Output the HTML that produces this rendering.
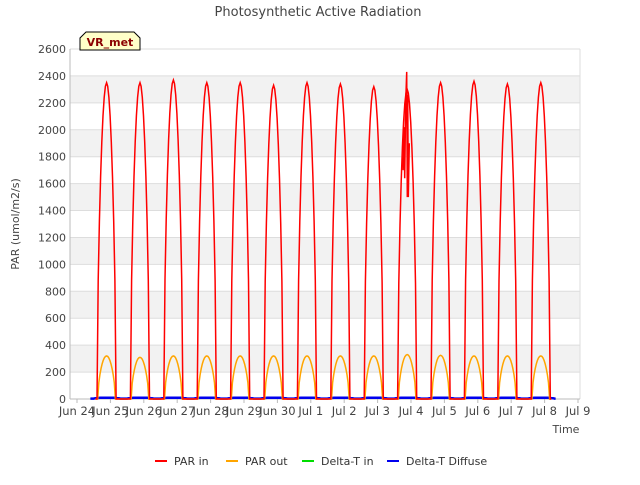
<!DOCTYPE html>
<html><head><meta charset="utf-8"><style>
body{margin:0;background:#fff;font-family:"Liberation Sans","DejaVu Sans",sans-serif}
svg text{font-family:"DejaVu Sans","Liberation Sans",sans-serif}
</style></head><body>
<svg id="chart" width="640" height="480" xmlns="http://www.w3.org/2000/svg">
<text x="318" y="16" text-anchor="middle" font-size="13" fill="#444">Photosynthetic Active Radiation</text>
<g id="grid"></g><g id="axes"></g><g id="series"></g>
<text transform="translate(19,224) rotate(-90)" text-anchor="middle" font-size="11" fill="#444">PAR (umol/m2/s)</text>
<text x="566" y="433" text-anchor="middle" font-size="11" fill="#444">Time</text>
<g>
<path d="M80,50 L80,38 L86,32 L134,32 L140,38 L140,50 Z" fill="#ffffc8" stroke="#000" stroke-width="1"/>
<text x="110" y="46" text-anchor="middle" font-size="11" font-weight="bold" fill="#8b0000">VR_met</text></g>
<g id="legend"></g>
</svg>
<script>
const dayLabels=["Jun 24","Jun 25","Jun 26","Jun 27","Jun 28","Jun 29","Jun 30","Jul 1","Jul 2","Jul 3","Jul 4","Jul 5","Jul 6","Jul 7","Jul 8","Jul 9"];
const yTicks=[0,200,400,600,800,1000,1200,1400,1600,1800,2000,2200,2400,2600];
const parInPeaks=[2350,2350,2370,2350,2350,2330,2350,2340,2320,2300,2350,2360,2340,2350];
const parOutPeaks=[320,310,320,320,320,320,320,320,320,330,325,320,320,320];
const deltaTInPeaks=[8,8,8,8,8,8,8,8,8,8,8,8,8,8];
const diffusePeaks=[10,10,10,10,10,10,10,10,10,10,10,10,10,10];
const jul3SpikeTimes=[9.76,9.79,9.81,9.84,9.87,9.89,9.9,9.92,9.95];
const jul3SpikeValues=[1700,2020,1640,2200,2430,1500,2260,1500,1900];
const NS="http://www.w3.org/2000/svg";
const L=70,R=580,T=49,B=399,x0=77,dw=33.4;
const X=d=>x0+d*dw, Y=v=>B-(v/2600)*(B-T);
function el(tag,attrs,parent){const e=document.createElementNS(NS,tag);for(const k in attrs)e.setAttribute(k,attrs[k]);parent.appendChild(e);return e;}
const grid=document.getElementById('grid'),axes=document.getElementById('axes'),ser=document.getElementById('series'),leg=document.getElementById('legend');
el('rect',{x:L,y:T,width:R-L,height:B-T,fill:'#fff'},grid);
for(let i=0;i<yTicks.length-1;i++){if(i%2==1){el('rect',{x:L,y:Y(yTicks[i+1]),width:R-L,height:Y(yTicks[i])-Y(yTicks[i+1]),fill:'#f2f2f2'},grid);}}
yTicks.forEach(v=>{el('line',{x1:L,x2:R,y1:Y(v),y2:Y(v),stroke:'#ddd'},grid);
const t=el('text',{x:L-4,y:Y(v)+4,'text-anchor':'end','font-size':'11',fill:'#444'},axes);t.textContent=v;

});
el('line',{x1:R,x2:R,y1:T,y2:B,stroke:'#ddd'},grid);
el('line',{x1:L,x2:L,y1:T,y2:B,stroke:'#bbb'},axes);
el('line',{x1:L,x2:R,y1:B,y2:B,stroke:'#bbb'},axes);
dayLabels.forEach((s,i)=>{el('line',{x1:X(i),x2:X(i),y1:B,y2:B+4,stroke:'#bbb'},axes);
const t=el('text',{x:X(i),y:B+16,'text-anchor':'middle','font-size':'11.5',fill:'#444'},axes);t.textContent=s;

});
function daily(peaks,s,e,base,st,en){let pts=[[X(st),Y(base)]];peaks.forEach((p,i)=>{
 pts.push([X(i+s-0.03),Y(base)]);
 for(let k=0;k<=16;k++){const f=k/16;pts.push([X(i+s+f*(e-s)),Y(base+(p-base)*Math.pow(Math.sin(Math.PI*f),0.6))]);}
 pts.push([X(i+e+0.03),Y(base)]);});
 pts.push([X(en),Y(base)]);return pts.map(p=>p[0].toFixed(1)+','+p[1].toFixed(1)).join(' ');}
const series=[
 {name:'delta-t-in-line',color:'#00dd00',pts:daily(deltaTInPeaks,0.5,1.3,3,0.4,14.3),w:1.5},
 {name:'delta-t-diffuse-line',color:'#0000ee',pts:daily(diffusePeaks,0.5,1.3,3,0.4,14.3),w:2.5},
 {name:'par-out-line',color:'orange',pts:daily(parOutPeaks,0.62,1.15,0,0.55,14.2),w:1.5},
 {name:'par-in-line',color:'red',pts:daily(parInPeaks,0.6,1.17,0,0.55,14.2),w:1.5}];
series.forEach(s=>{const p=el('polyline',{points:s.pts,fill:'none',stroke:s.color,'stroke-width':s.w},ser);

});
const sp=el('polyline',{points:jul3SpikeTimes.map((t,i)=>X(t).toFixed(1)+','+Y(jul3SpikeValues[i]).toFixed(1)).join(' '),fill:'none',stroke:'red','stroke-width':1.5},ser);


const items=[['PAR in','red',155],['PAR out','orange',226],['Delta-T in','#00dd00',302],['Delta-T Diffuse','#0000ee',387]];
items.forEach(it=>{const g=el('g',{},leg);


el('line',{x1:it[2],x2:it[2]+12,y1:461,y2:461,stroke:it[1],'stroke-width':2},g);
const t=el('text',{x:it[2]+19,y:465,'font-size':'11',fill:'#333'},g);t.textContent=it[0];});
</script>
</body></html>
